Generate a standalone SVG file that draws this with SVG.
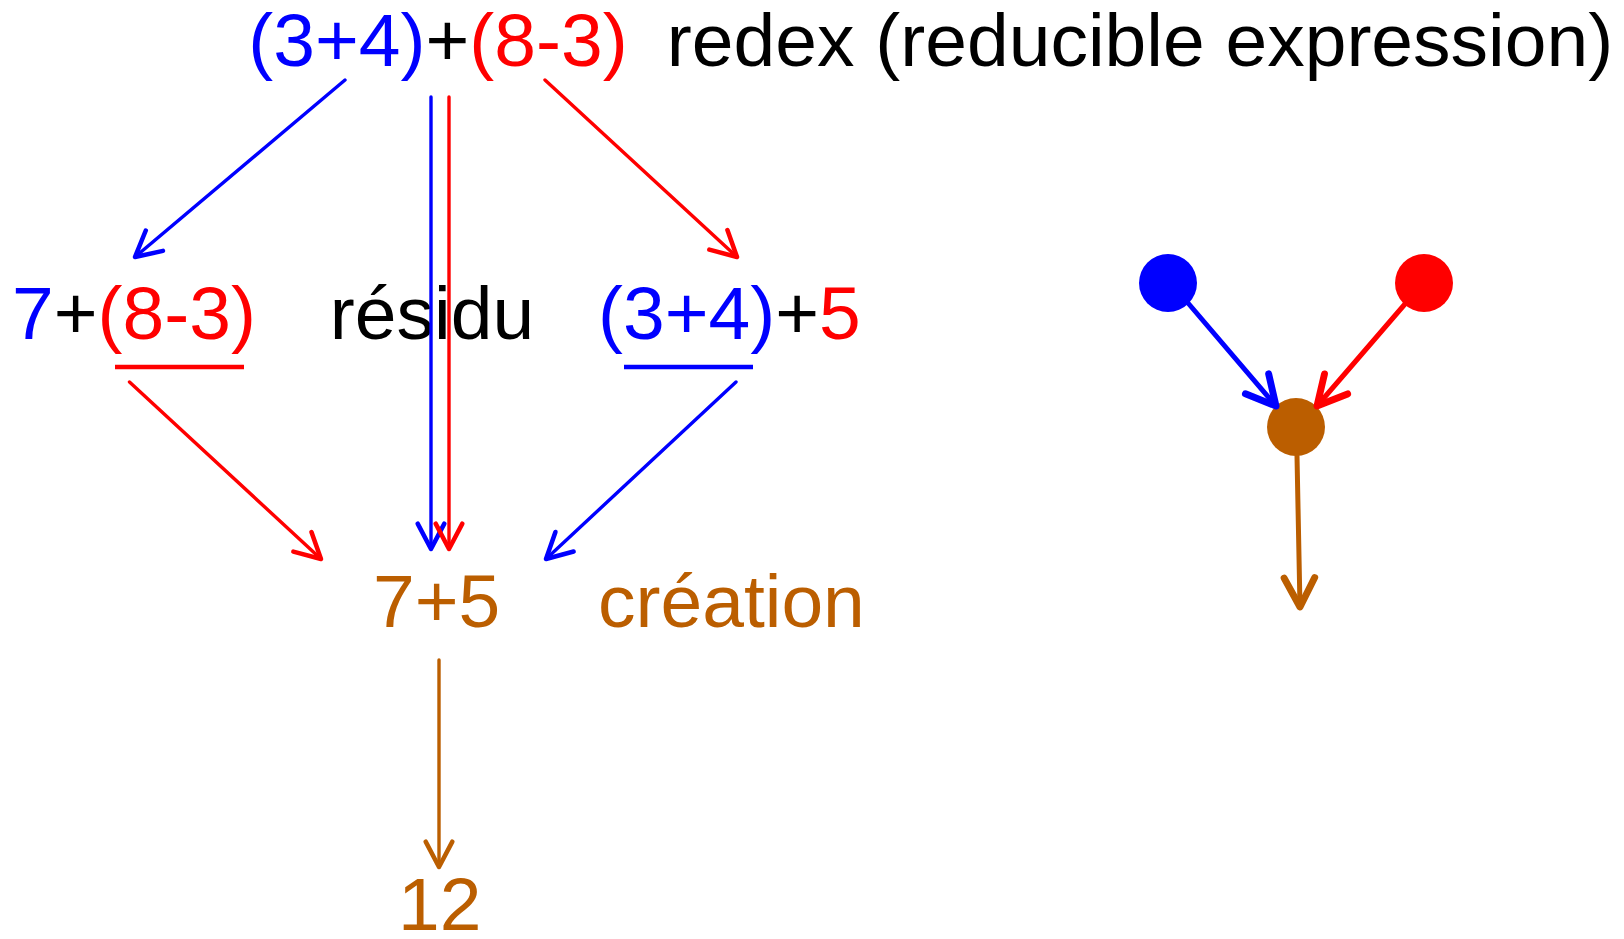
<svg xmlns="http://www.w3.org/2000/svg" width="1624" height="939" viewBox="0 0 1624 939">
<style>
text{font-family:"Liberation Sans",Arial,sans-serif;font-size:75px}
.b{fill:#0000FF}.r{fill:#FF0000}.k{fill:#000000}.o{fill:#BB5E00}
.c{fill:none;stroke-width:3.4;stroke-linecap:round}
.cw{fill:none;stroke-width:5;stroke-linecap:round}
.sb{stroke:#0000FF}.sr{stroke:#FF0000}.so{stroke:#BB5E00}
.ul{stroke-width:4.6}
</style>
<defs>
<marker id="mb" markerUnits="userSpaceOnUse" markerWidth="40" markerHeight="40" refX="0" refY="0" viewBox="-25 -15 30 30" orient="auto" overflow="visible"><path d="M-19,-10 L0,0 L-19,10" fill="none" stroke="#0000FF" stroke-width="3.4" stroke-linecap="round" stroke-linejoin="round"/></marker>
<marker id="mr" markerUnits="userSpaceOnUse" markerWidth="40" markerHeight="40" refX="0" refY="0" viewBox="-25 -15 30 30" orient="auto" overflow="visible"><path d="M-19,-10 L0,0 L-19,10" fill="none" stroke="#FF0000" stroke-width="3.4" stroke-linecap="round" stroke-linejoin="round"/></marker>
<marker id="mo" markerUnits="userSpaceOnUse" markerWidth="40" markerHeight="40" refX="0" refY="0" viewBox="-25 -15 30 30" orient="auto" overflow="visible"><path d="M-19,-10 L0,0 L-19,10" fill="none" stroke="#BB5E00" stroke-width="3.4" stroke-linecap="round" stroke-linejoin="round"/></marker>
<marker id="mbw" markerUnits="userSpaceOnUse" markerWidth="50" markerHeight="50" refX="0" refY="0" viewBox="-30 -18 36 36" orient="auto" overflow="visible"><path d="M-21,-11 L0,0 L-21,11" fill="none" stroke="#0000FF" stroke-width="5" stroke-linecap="round" stroke-linejoin="round"/></marker>
<marker id="mrw" markerUnits="userSpaceOnUse" markerWidth="50" markerHeight="50" refX="0" refY="0" viewBox="-30 -18 36 36" orient="auto" overflow="visible"><path d="M-21,-11 L0,0 L-21,11" fill="none" stroke="#FF0000" stroke-width="5" stroke-linecap="round" stroke-linejoin="round"/></marker>
<marker id="mow" markerUnits="userSpaceOnUse" markerWidth="50" markerHeight="50" refX="0" refY="0" viewBox="-30 -18 36 36" orient="auto" overflow="visible"><path d="M-21,-11 L0,0 L-21,11" fill="none" stroke="#BB5E00" stroke-width="5" stroke-linecap="round" stroke-linejoin="round"/></marker>
</defs>
<rect width="1624" height="939" fill="#FFFFFF"/>
<g id="node-top">
<text x="438" y="66" text-anchor="middle"><tspan class="b">(3+4)</tspan><tspan class="k">+</tspan><tspan class="r">(8-3)</tspan></text>
</g>
<g id="label-redex">
<text x="1140" y="66" text-anchor="middle" class="k">redex (reducible expression)</text>
</g>
<g id="node-left">
<text x="12" y="339"><tspan class="b">7</tspan><tspan class="k">+</tspan><tspan class="r">(8-3)</tspan></text>
<line x1="115" y1="367" x2="244" y2="367" class="sr ul"/>
</g>
<g id="label-residu">
<text x="432" y="339" text-anchor="middle" class="k">résidu</text>
</g>
<g id="node-right">
<text x="598" y="339"><tspan class="b">(3+4)</tspan><tspan class="k">+</tspan><tspan class="r">5</tspan></text>
<line x1="624" y1="367" x2="753" y2="367" class="sb ul"/>
</g>
<g id="node-mid">
<text x="373" y="627" class="o">7+5</text>
</g>
<g id="label-creation">
<text x="598" y="627" class="o">création</text>
</g>
<g id="node-result">
<text x="398" y="930" class="o">12</text>
</g>
<g id="node-blue-dot"><circle cx="1168" cy="283" r="29" fill="#0000FF"/></g>
<g id="node-red-dot"><circle cx="1424" cy="283" r="29" fill="#FF0000"/></g>
<g id="node-brown-dot"><circle cx="1296" cy="427" r="29" fill="#BB5E00"/></g>
<g id="connectors">
<line x1="345" y1="80" x2="135" y2="257" class="c sb" marker-end="url(#mb)"/>
<line x1="545" y1="80" x2="737" y2="257" class="c sr" marker-end="url(#mr)"/>
<line x1="431" y1="97" x2="431" y2="549" class="c sb" marker-end="url(#mb)"/>
<line x1="449" y1="97" x2="449" y2="549" class="c sr" marker-end="url(#mr)"/>
<line x1="129.5" y1="382" x2="321" y2="559" class="c sr" marker-end="url(#mr)"/>
<line x1="736" y1="382" x2="546" y2="559" class="c sb" marker-end="url(#mb)"/>
<line x1="439" y1="660" x2="439" y2="867" class="c so" marker-end="url(#mo)"/>
<line x1="1188" y1="303" x2="1276" y2="406" class="cw sb" marker-end="url(#mbw)"/>
<line x1="1405" y1="304" x2="1317" y2="406" class="cw sr" marker-end="url(#mrw)"/>
<line x1="1297" y1="456" x2="1300" y2="607" class="cw so" marker-end="url(#mow)"/>
</g>
</svg>
